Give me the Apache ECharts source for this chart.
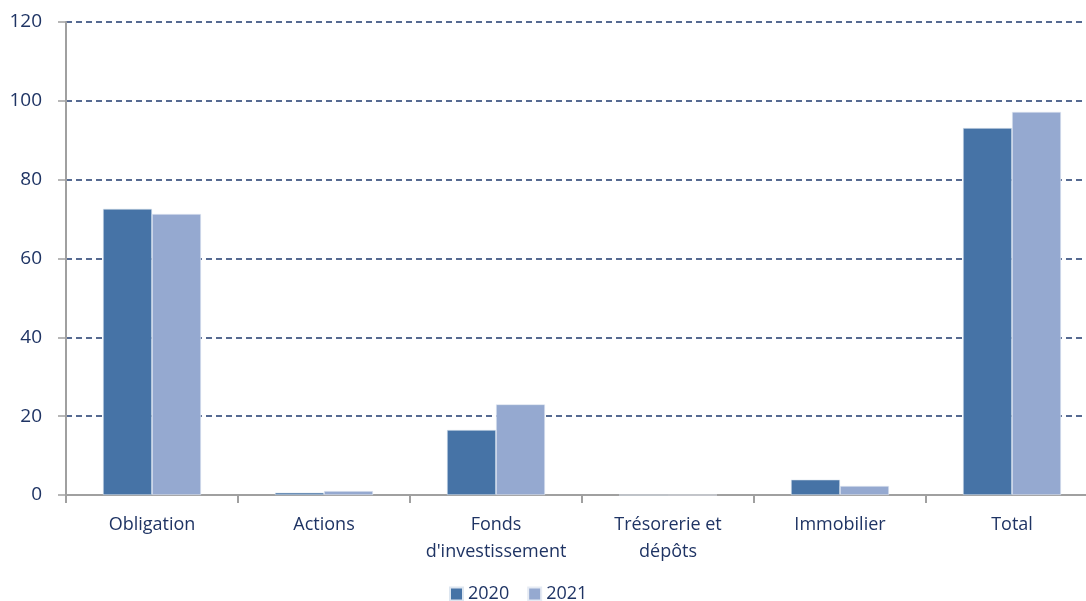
<!DOCTYPE html>
<html>
<head>
<meta charset="utf-8">
<script src="https://cdn.jsdelivr.net/npm/echarts@6/dist/echarts.min.js"></script>
<style>
  html, body { margin: 0; padding: 0; background: #fff; overflow: hidden; }
  #chart { width: 1086px; height: 601px; }
</style>
</head>
<body>
<div id="chart"></div>
<script>
const categories = ['Obligation', 'Actions', "Fonds\nd'investissement", 'Trésorerie et\ndépôts', 'Immobilier', 'Total']
const values2020 = [72.6, 0.6, 16.5, 0, 3.9, 93.1]
const values2021 = [71.3, 1.0, 23.0, 0, 2.3, 97.2]
const yTicks = [0, 20, 40, 60, 80, 100, 120]

const textColor = '#1f3464'
const font = 'Open Sans'

const chart = echarts.init(document.getElementById('chart'))

chart.setOption({
  animation: false,
  textStyle: { fontFamily: font },
  legend: {
    left: 444,
    top: 580,
    itemWidth: 13,
    itemHeight: 13,
    itemGap: 18,
    icon: 'rect',
    textStyle: { color: textColor, fontSize: 18, fontFamily: font },
    data: ['2020', '2021']
  },
  grid: {
    left: 66,
    top: 22,
    width: 1032,
    height: 473,
    outerBoundsMode: 'none',
    containLabel: false
  },
  xAxis: {
    type: 'category',
    data: categories,
    axisLine: { lineStyle: { color: '#a0a0a0', width: 2 } },
    axisTick: { show: true, length: 8, lineStyle: { color: '#a0a0a0', width: 2 } },
    axisLabel: {
      color: textColor,
      fontSize: 18,
      lineHeight: 27,
      margin: 16,
      interval: 0,
      fontFamily: font
    }
  },
  yAxis: {
    type: 'value',
    min: yTicks[0],
    max: yTicks[yTicks.length - 1],
    interval: 20,
    axisLine: { show: true, lineStyle: { color: '#a0a0a0', width: 2 } },
    axisTick: { show: true, length: 8, lineStyle: { color: '#a0a0a0', width: 1.5 } },
    axisLabel: { color: textColor, fontSize: 19, margin: 24, fontFamily: font },
    splitLine: { lineStyle: { color: '#1f3a6e', type: [6, 4], width: 1.5 } }
  },
  series: [
    {
      name: '2020',
      type: 'bar',
      data: values2020,
      barGap: '0%',
      barCategoryGap: '43%',
      itemStyle: { color: '#4673a6', borderColor: '#dde6f0', borderWidth: 0.6 }
    },
    {
      name: '2021',
      type: 'bar',
      data: values2021,
      itemStyle: { color: '#95a9d0', borderColor: '#e6ebf4', borderWidth: 0.6 }
    }
  ]
})
</script>
</body>
</html>
